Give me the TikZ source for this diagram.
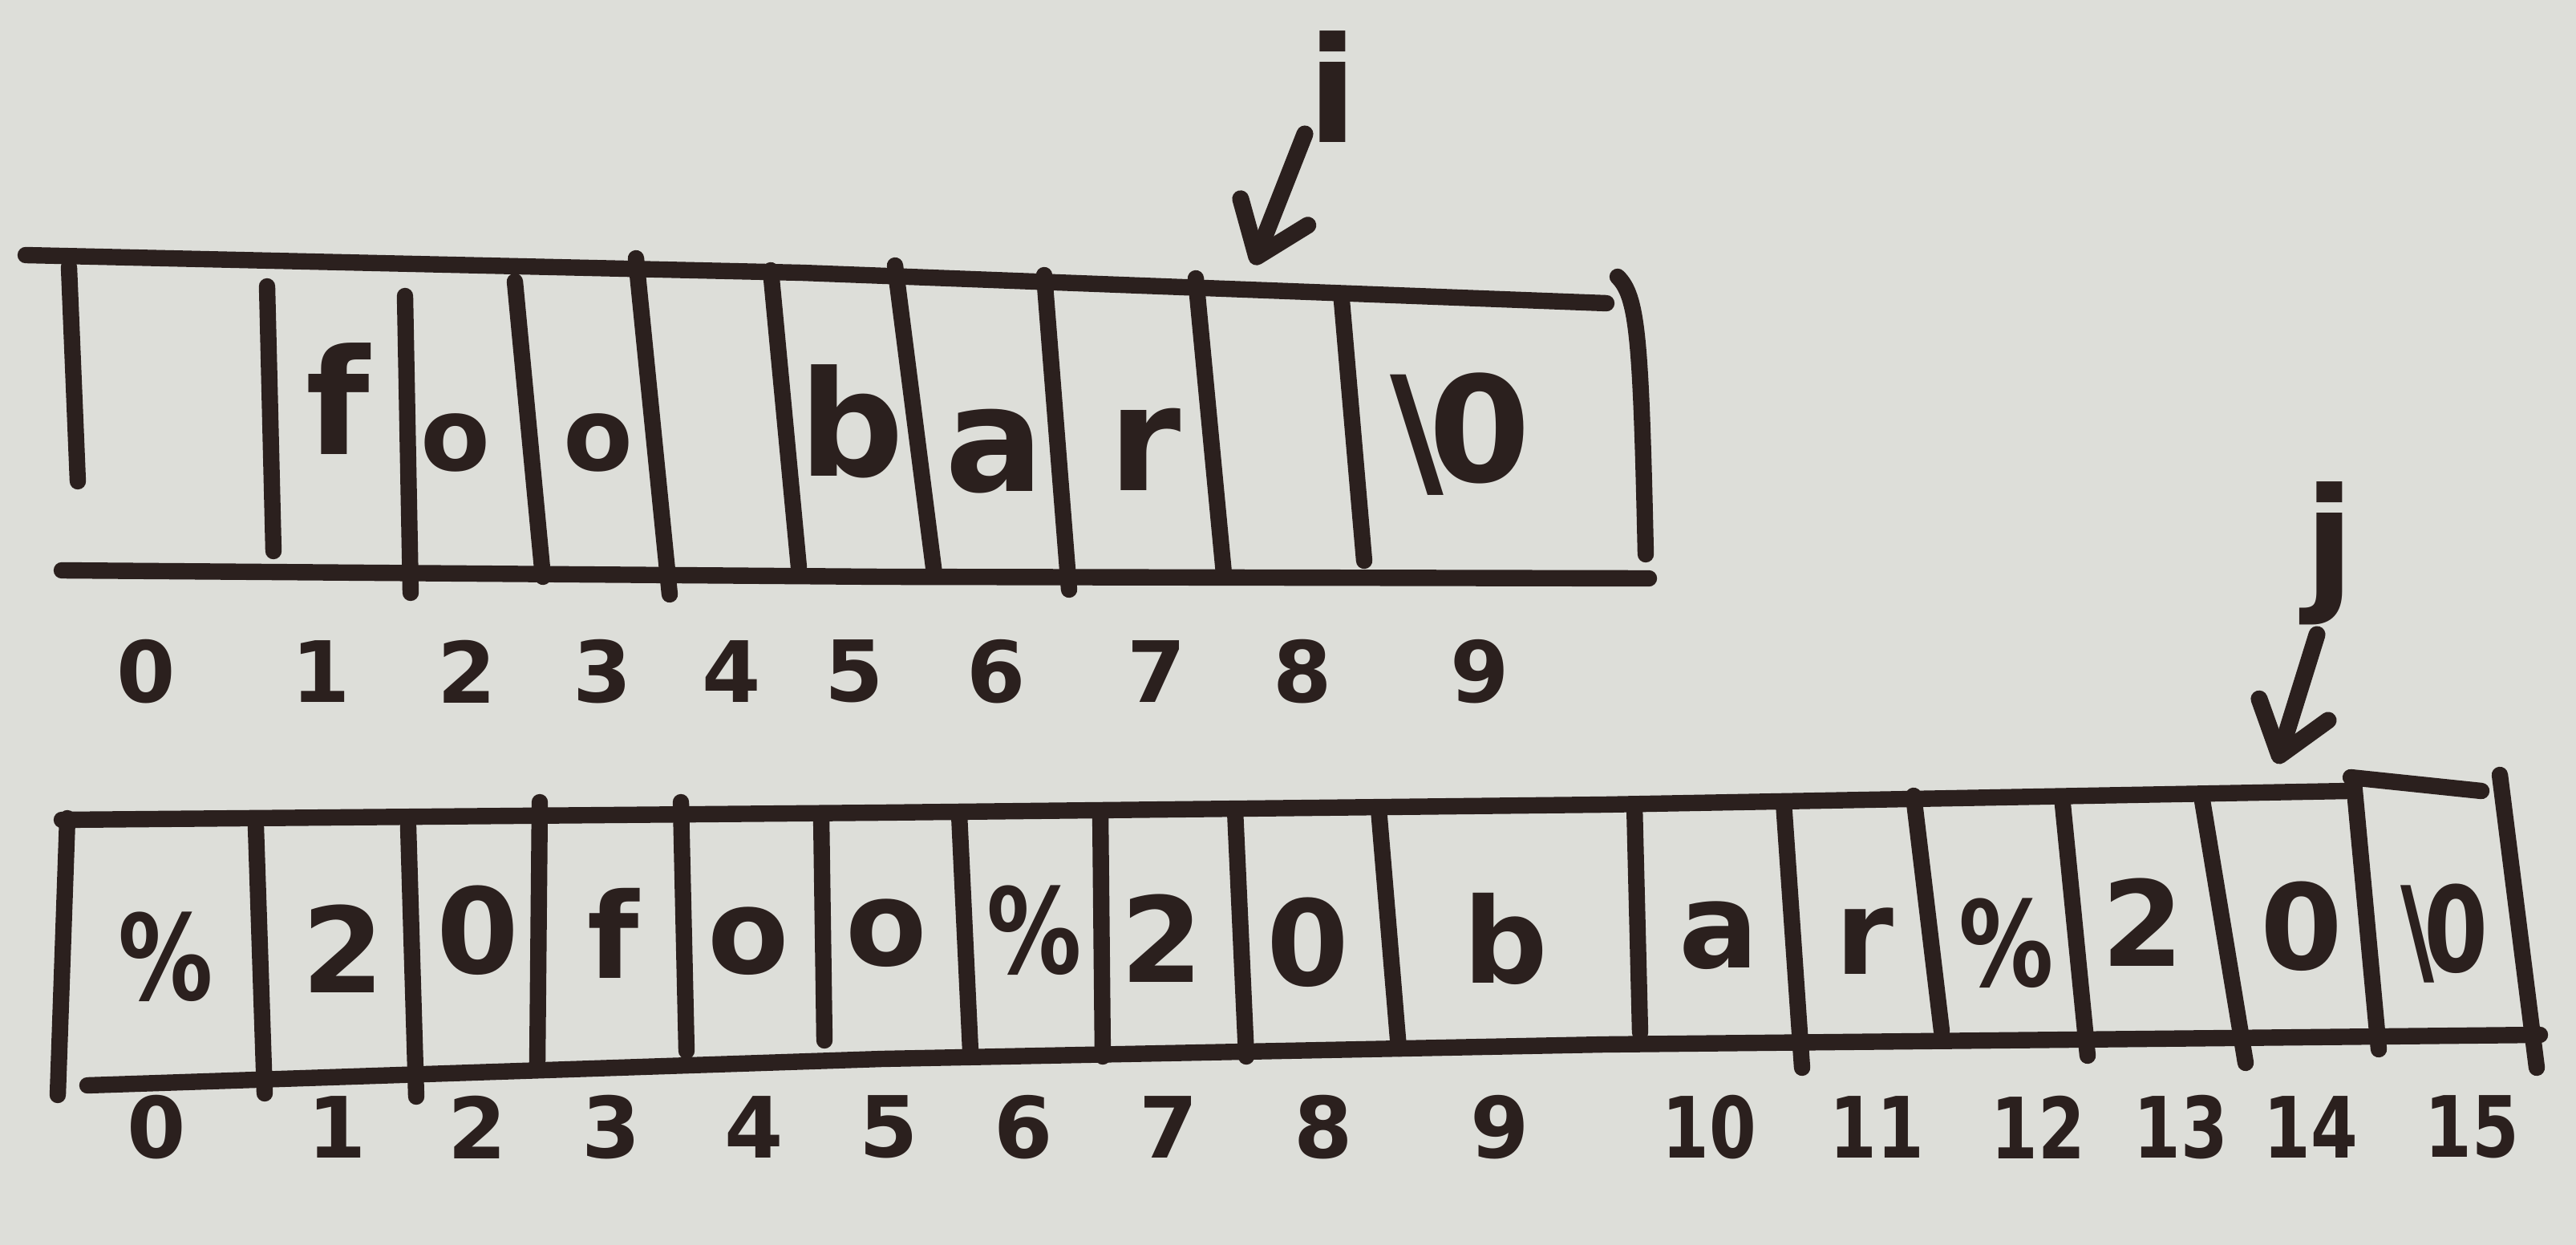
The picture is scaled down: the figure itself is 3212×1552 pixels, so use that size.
\documentclass[tikz,border=0pt]{standalone}
\usepackage{fontspec}
\setmainfont{DejaVu Sans}
\usetikzlibrary{arrows.meta}
\definecolor{board}{RGB}{221,222,217}
\definecolor{ink}{RGB}{43,32,30}
\begin{document}
\begin{tikzpicture}[x=0.01cm, y=-0.01cm, line cap=round, line join=round,
  inkline/.style={draw=ink, line width=5.8pt},
  topch/.style={text=ink, inner sep=0pt, font=\fontsize{52}{60}\selectfont\bfseries},
  smallo/.style={text=ink, inner sep=0pt, font=\fontsize{36}{42}\selectfont\bfseries},
  botch/.style={text=ink, inner sep=0pt, font=\fontsize{42}{50}\selectfont\bfseries},
  idx/.style={text=ink, inner sep=0pt, font=\fontsize{30}{36}\selectfont\bfseries},
  ptrlabel/.style={text=ink, inner sep=0pt, font=\fontsize{52}{60}\selectfont\bfseries},
  ptr/.style={draw=ink, line width=6pt, -{Straight Barb[length=6mm, width=9mm, round]}}]
% background / bounding box
\fill[board] (0,0) rectangle (3212,1552);
\useasboundingbox (0,0) rectangle (3212,1552);

% ---------------- top array ----------------
\draw[inkline] (32,318) -- (1000,340) -- (2003,378);
\draw[inkline] (77,711) -- (1100,719) -- (2056,721);
\draw[inkline] (86,333) -- (97,600);
\draw[inkline] (333,357) -- (341,687);
\draw[inkline] (505,369) -- (512,739);
\draw[inkline] (642,351) -- (677,719);
\draw[inkline] (793,322) -- (835,741);
\draw[inkline] (961,337) -- (996,707);
\draw[inkline] (1116,331) -- (1165,715);
\draw[inkline] (1302,343) -- (1333,735);
\draw[inkline] (1491,347) -- (1526,715);
\draw[inkline] (1673,375) -- (1701,699);
\draw[inkline] (2017,345) .. controls (2042,370) and (2046,420) .. (2052,691);

\node[topch] (t1) at (421,497) {f};
\node[smallo] (t2) at (568,552) {o};
\node[smallo] (t3) at (746,552) {o};
\node[topch] (t5) at (1062,525) {b};
\node[topch] (t6) at (1240,563) {a};
\node[topch] (t7) at (1428,560) {r};
\node[topch] (t9) at (1821,541) {\textbackslash\kern-.1em 0};

\foreach \n/\x in {0/182,1/400,2/582,3/751,4/912,5/1065,6/1242,7/1442,8/1624,9/1845}
  \node[idx] (ti\n) at (\x,837) {\n};

% pointer i
\node[ptrlabel] (ilab) at (1662,108) {i};
\coordinate (itail) at (1627,167);
\coordinate (itip) at (1563,330);
\draw[ptr] (itail) -- (itip);

% ---------------- bottom array ----------------
\draw[inkline] (77,1022) -- (1100,1013) -- (2000,1003) -- (2928,986);
\draw[inkline] (2931,969) -- (3094,986);
\draw[inkline] (109,1353) -- (1100,1320) -- (2000,1302) -- (3167,1290);
\draw[inkline] (84,1020) -- (72,1365);
\draw[inkline] (319,1030) -- (330,1363);
\draw[inkline] (509,1030) -- (519,1367);
\draw[inkline] (673,1000) -- (670,1327);
\draw[inkline] (849,1000) -- (856,1310);
\draw[inkline] (1024,1017) -- (1028,1297);
\draw[inkline] (1196,1015) -- (1210,1310);
\draw[inkline] (1372,1012) -- (1375,1317);
\draw[inkline] (1540,1010) -- (1554,1317);
\draw[inkline] (1719,1008) -- (1744,1307);
\draw[inkline] (2038,1004) -- (2045,1287);
\draw[inkline] (2224,1000) -- (2247,1331);
\draw[inkline] (2386,992) -- (2421,1285);
\draw[inkline] (2572,1003) -- (2603,1316);
\draw[inkline] (2746,998) -- (2800,1325);
\draw[inkline] (2935,975) -- (2966,1308);
\draw[inkline] (3117,966) -- (3163,1331);

\foreach \n/\x/\y/\t in {0/207/1193/{\scalebox{0.8}[1]{\%}},
                         1/428/1183/2,
                         2/596/1160/0,
                         3/765/1163/f,
                         4/933/1173/o,
                         5/1105/1163/o,
                         6/1290/1160/{\scalebox{0.8}[1]{\%}},
                         7/1449/1170/2,
                         8/1631/1175/0,
                         9/1877/1170/b,
                         10/2143/1166/a,
                         11/2325/1173/r,
                         12/2502/1176/{\scalebox{0.8}[1]{\%}},
                         13/2672/1150/2,
                         14/2870/1155/0,
                         15/3048/1164/{\scalebox{0.78}[1]{\textbackslash\kern-.12em 0}}}
  \node[botch] (bc\n) at (\x,\y) {\t};

\foreach \n/\x in {0/195,1/420,2/595,3/762,4/940,5/1108,6/1276,7/1457,8/1650,9/1870}
  \node[idx] (bi\n) at (\x,1405) {\n};
\foreach \n/\x in {10/2131,11/2340,12/2541,13/2719,14/2881,15/3082}
  \node[idx] (bi\n) at (\x,1405) {\scalebox{0.8}[1]{\n}};

% pointer j
\node[ptrlabel] (jlab) at (2905,690) {j};
\coordinate (jtail) at (2889,791);
\coordinate (jtip) at (2839,952);
\draw[ptr] (jtail) -- (jtip);
\end{tikzpicture}
\end{document}
